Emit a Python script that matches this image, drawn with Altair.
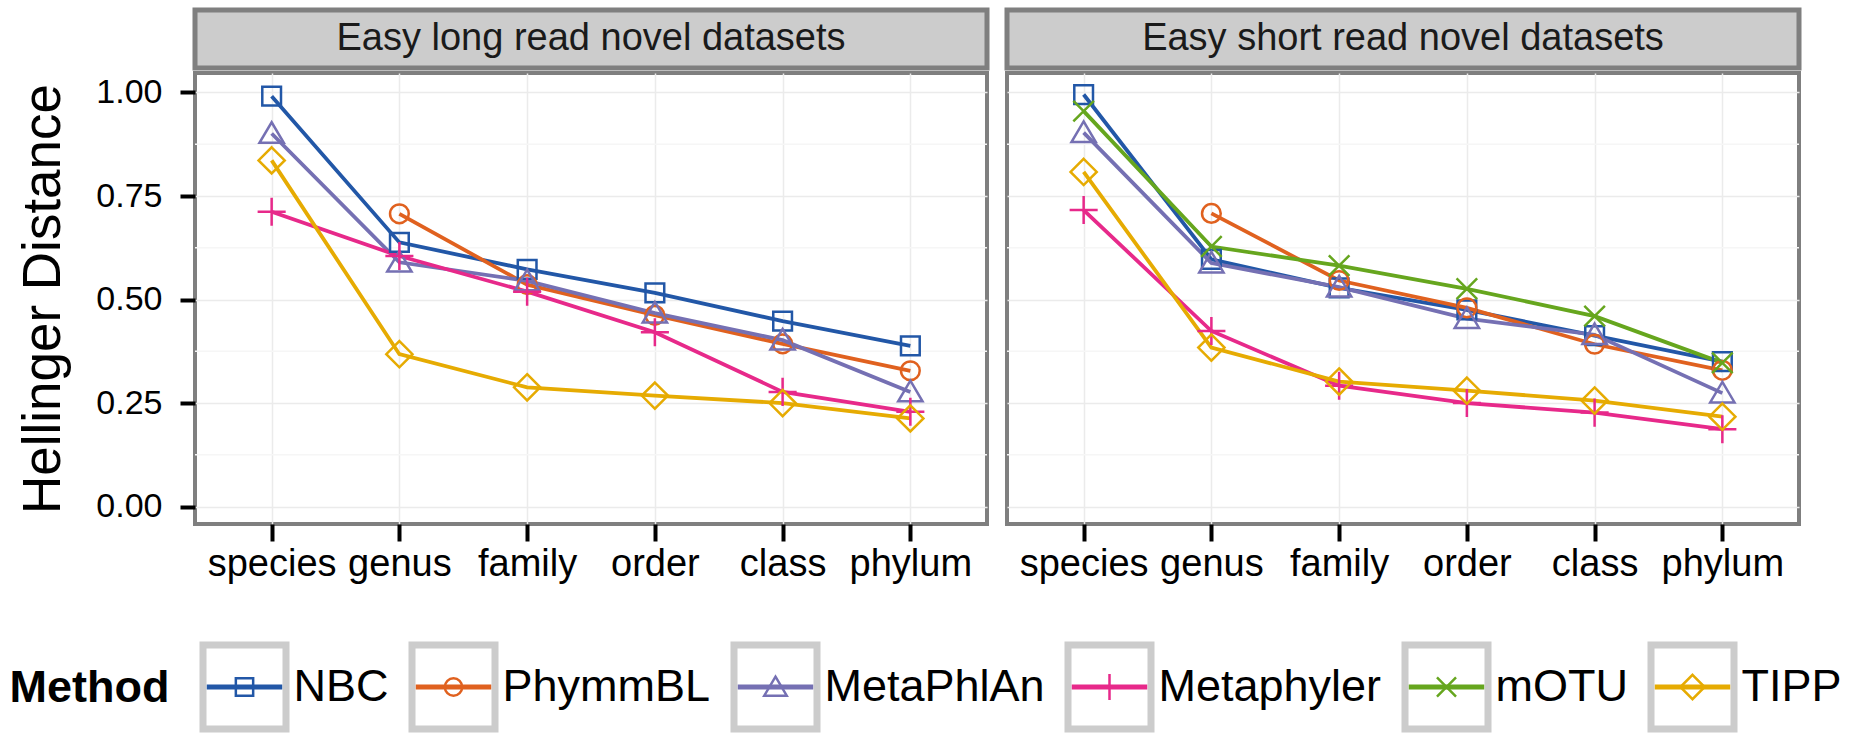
import altair as alt
import pandas as pd

FONT = "Liberation Sans"

ranks = ["species", "genus", "family", "order", "class", "phylum"]
panels = ["Easy long read novel datasets", "Easy short read novel datasets"]
methods = ["NBC", "PhymmBL", "MetaPhlAn", "Metaphyler", "mOTU", "TIPP"]
colors = ["#2257a7", "#e0611f", "#7570b3", "#e7298a", "#66a61e", "#e6ab02"]
shapes = [
    "square",
    "circle",
    "M0,-1.2L1.3,1.0L-1.3,1.0Z",
    "M-1.5,0L1.5,0M0,-1.5L0,1.5",
    "M-1.1,-1.1L1.1,1.1M-1.1,1.1L1.1,-1.1",
    "M0,-1.4L1.4,0L0,1.4L-1.4,0Z",
]

# values per method, order: species, genus, family, order, class, phylum
long_read = {
    "NBC":        [0.991, 0.638, 0.573, 0.516, 0.448, 0.388],
    "PhymmBL":    [None,  0.707, 0.536, 0.462, 0.393, 0.328],
    "MetaPhlAn":  [0.901, 0.590, 0.545, 0.467, 0.402, 0.277],
    "Metaphyler": [0.712, 0.605, 0.519, 0.421, 0.277, 0.229],
    "TIPP":       [0.836, 0.368, 0.288, 0.268, 0.250, 0.213],
}
short_read = {
    "NBC":        [0.995, 0.597, 0.528, 0.475, 0.413, 0.350],
    "PhymmBL":    [None,  0.708, 0.546, 0.480, 0.392, 0.329],
    "MetaPhlAn":  [0.903, 0.588, 0.530, 0.454, 0.415, 0.274],
    "Metaphyler": [0.716, 0.424, 0.292, 0.250, 0.227, 0.187],
    "mOTU":       [0.955, 0.628, 0.582, 0.526, 0.460, 0.347],
    "TIPP":       [0.808, 0.384, 0.302, 0.280, 0.256, 0.217],
}
major_ticks = [0.0, 0.25, 0.5, 0.75, 1.0]
minor_ticks = [0.125, 0.375, 0.625, 0.875]

rows = []
for pname, table in zip(panels, [long_read, short_read]):
    for m, vals in table.items():
        for i, (r, v) in enumerate(zip(ranks, vals)):
            if v is not None:
                rows.append({"panel": pname, "method": m, "rank": r, "ri": i, "value": v})
df = pd.DataFrame(rows)

color_scale = alt.Scale(domain=methods, range=colors)
shape_scale = alt.Scale(domain=methods, range=shapes)
yscale = alt.Scale(domain=[-0.042, 1.047], nice=False, zero=False)

W = 792
H = 451
STRIP_H = 58
BORDER = "#7f7f7f"


def panel(name, show_y):
    d = df[df["panel"] == name]
    xenc = alt.X(
        "rank:N",
        sort=ranks,
        scale=alt.Scale(type="point", padding=0.6, domain=ranks),
        axis=alt.Axis(
            title=None, labelAngle=0, labelFontSize=38, labelFont=FONT,
            labelColor="black", tickColor="black", tickSize=17, tickWidth=4,
            domain=False, grid=True, gridColor="#ebebeb", gridWidth=1.5,
            labelPadding=4, labelLimit=0,
        ),
    )
    if show_y:
        yaxis = alt.Axis(
            title="Hellinger Distance", titleFontSize=53, titleFont=FONT,
            titleFontWeight="normal", titleColor="black", titlePadding=25,
            values=major_ticks, format=".2f", labelFontSize=34, labelFont=FONT,
            labelColor="black", tickColor="black", tickSize=15, tickWidth=4,
            labelPadding=18, domain=False, grid=True, gridColor="#ebebeb",
            gridWidth=1.5, labelLimit=0,
        )
    else:
        yaxis = alt.Axis(
            title=None, values=major_ticks, labels=False, ticks=False,
            domain=False, grid=True, gridColor="#ebebeb", gridWidth=1.5,
        )
    yenc = alt.Y("value:Q", scale=yscale, axis=yaxis)

    minor = alt.Chart(pd.DataFrame({"value": minor_ticks})).mark_rule(
        color="#f6f6f6", strokeWidth=1.5
    ).encode(y=yenc)

    base = alt.Chart(d)
    lines = base.mark_line(strokeWidth=3.8).encode(
        x=xenc, y=yenc,
        color=alt.Color("method:N", scale=color_scale, legend=None),
        order=alt.Order("ri:Q"),
    )
    pts = base.mark_point(filled=False, strokeWidth=2.5, size=350, opacity=1).encode(
        x=xenc, y=yenc,
        color=alt.Color("method:N", scale=color_scale, legend=None),
        shape=alt.Shape("method:N", scale=shape_scale, legend=None),
    )
    plot = alt.layer(minor, lines, pts).properties(
        width=W, height=H,
        view=alt.ViewBackground(stroke=BORDER, strokeWidth=4, fill="white"),
    )
    strip = alt.Chart(pd.DataFrame({"panel": [name]})).mark_text(
        fontSize=38, font=FONT, color="#1a1a1a"
    ).encode(text="panel:N").properties(
        width=W, height=STRIP_H,
        view=alt.ViewBackground(fill="#cccccc", stroke=BORDER, strokeWidth=5),
    )
    return alt.vconcat(strip, plot, spacing=0)


def legend_item(i):
    m = methods[i]
    ld = pd.DataFrame({"method": [m], "x0": [0.0], "x1": [1.0], "xm": [0.5]})
    xs = alt.Scale(domain=[-0.05, 1.05])
    yenc = alt.Y(
        "method:N",
        axis=alt.Axis(
            orient="right", title=None, ticks=False, domain=False, grid=False,
            labelFontSize=45, labelFont=FONT, labelColor="black", labelPadding=7,
            labelLimit=0,
        ),
    )
    base = alt.Chart(ld)
    rule = base.mark_rule(strokeWidth=5).encode(
        x=alt.X("x0:Q", scale=xs, axis=None), x2="x1:Q", y=yenc,
        color=alt.Color("method:N", scale=color_scale, legend=None),
    )
    pt = base.mark_point(filled=False, strokeWidth=2.5, size=300, opacity=1).encode(
        x=alt.X("xm:Q", scale=xs, axis=None), y=yenc,
        color=alt.Color("method:N", scale=color_scale, legend=None),
        shape=alt.Shape("method:N", scale=shape_scale, legend=None),
    )
    return alt.layer(rule, pt).properties(
        width=83, height=84,
        view=alt.ViewBackground(stroke="#cccccc", strokeWidth=7, fill="white"),
    )


method_title = alt.Chart(pd.DataFrame({"t": ["Method"]})).mark_point(opacity=0).encode(
    y=alt.Y("t:N", axis=alt.Axis(
        orient="left", title=None, ticks=False, domain=False, grid=False,
        labelFontSize=45, labelFont=FONT, labelFontWeight="bold",
        labelColor="black", labelPadding=26, labelLimit=0,
    ))
).properties(width=1, height=84, view=alt.ViewBackground(strokeWidth=0))

legend_row = alt.hconcat(
    method_title,
    alt.hconcat(*[legend_item(i) for i in range(len(methods))], spacing=16),
    spacing=0,
)

top = alt.hconcat(panel(panels[0], True), panel(panels[1], False), spacing=14)

chart = alt.vconcat(top, legend_row, spacing=56).properties(
    padding={"left": 9, "top": 7, "right": 5, "bottom": 0},
    background="white",
).configure_view(strokeWidth=0)

chart.save("out.html", embed_options={"renderer": "svg", "actions": False})
